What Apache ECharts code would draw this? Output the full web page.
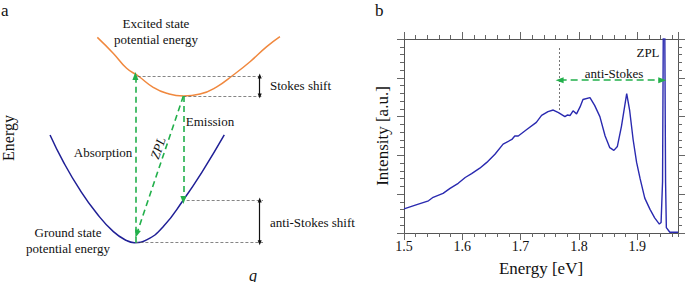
<!DOCTYPE html>
<html>
<head>
<meta charset="utf-8">
<script src="https://cdn.jsdelivr.net/npm/echarts@6/dist/echarts.min.js"></script>
<style>
  html, body { margin: 0; padding: 0; background: #fff; }
  #chart { width: 685px; height: 282px; }
</style>
</head>
<body>
<div id="chart"></div>
<script>
// panel a: schematic potential curves (q, energy)
const excitedQ = [3.47, 4.20, 4.80, 5.33, 6.01, 6.62, 7.38, 8.14, 8.90, 9.65, 10.41, 11.17, 11.77];
const excitedE = [8.99, 8.35, 7.76, 7.45, 7.00, 6.76, 6.65, 6.73, 7.02, 7.49, 8.02, 8.62, 9.02];
const groundQ = [1.32, 1.92, 2.68, 3.44, 4.20, 4.81, 5.15, 5.71, 6.47, 7.38, 8.29, 9.24];
const groundE = [5.10, 4.04, 2.91, 1.98, 1.25, 0.89, 0.81, 0.92, 1.45, 2.51, 3.71, 5.10];

// panel b: emission spectrum
const energy = [1.500, 1.522, 1.542, 1.550, 1.567, 1.579, 1.593, 1.605, 1.616, 1.630,
  1.642, 1.656, 1.670, 1.685, 1.690, 1.696, 1.710, 1.727, 1.736, 1.747,
  1.756, 1.765, 1.776, 1.780, 1.785, 1.790, 1.796, 1.802, 1.807, 1.819,
  1.827, 1.836, 1.845, 1.853, 1.860, 1.866, 1.873, 1.882, 1.887, 1.893,
  1.899, 1.905, 1.913, 1.922, 1.930, 1.938, 1.941, 1.9435, 1.946, 1.9487,
  1.950, 1.956, 1.970];
const intensity = [0.62, 0.73, 0.83, 0.92, 1.02, 1.15, 1.28, 1.43, 1.53, 1.67,
  1.82, 2.03, 2.29, 2.41, 2.50, 2.50, 2.66, 2.85, 3.03, 3.13,
  3.17, 3.10, 3.00, 3.04, 3.03, 3.15, 3.07, 3.25, 3.44, 3.49,
  3.29, 3.00, 2.50, 2.20, 2.13, 2.23, 2.75, 3.59, 3.17, 2.41,
  1.82, 1.40, 0.90, 0.61, 0.39, 0.23, 0.27, 1.32, 9.0, 1.30,
  0.14, 0.02, 0.02];

// transition levels in panel a
const levelAbsTop = 7.45, levelExcMin = 6.65, levelEmit = 2.51, levelGround = 0.81;
const qAbs = 5.2, qExc = 7.38, qShift = 10.85, qEnd = 11;
// panel b annotations
const antiStokesStart = 1.767, zplEnergy = 1.943, antiStokesLevel = 3.94;

const serif = "'Liberation Serif', serif";
const green = '#22b04b';
const gray = '#666';

const chart = echarts.init(document.getElementById('chart'), null, { renderer: 'svg' });

const arrowEnd = (from, to, color, type, width, size) => [
  { coord: from, symbol: 'none', lineStyle: { color: color, type: type, width: width } },
  { coord: to, symbol: 'triangle', symbolSize: size }
];
const doubleArrow = (from, to, color, type, width, size) => [
  { coord: from, symbol: 'triangle', symbolSize: size, lineStyle: { color: color, type: type, width: width } },
  { coord: to, symbol: 'triangle', symbolSize: size }
];
const guide = (from, to) => [
  { coord: from, symbol: 'none', lineStyle: { color: gray, type: [3, 2], width: 0.8 } },
  { coord: to, symbol: 'none' }
];

function text(t, x, y, opts) {
  opts = opts || {};
  return {
    type: 'text', x: x, y: y, rotation: opts.rotation || 0, silent: true,
    style: {
      text: t, fill: '#111',
      fontFamily: serif, fontSize: opts.size || 13,
      fontStyle: opts.italic ? 'italic' : 'normal', fontWeight: 'normal',
      align: opts.align || 'center', verticalAlign: 'middle'
    }
  };
}

const majorTickX = (pos) => ({
  type: 'value', gridIndex: 1, position: pos, min: 1.5, max: 1.97, interval: 0.1,
  axisLine: { show: true, lineStyle: { color: '#555', width: 1 } },
  axisTick: { show: true, length: 7, lineStyle: { color: gray } },
  axisLabel: {
    show: pos === 'bottom', showMaxLabel: false, margin: 6,
    fontFamily: serif, fontSize: 14, color: '#111',
    formatter: v => v.toFixed(1)
  },
  splitLine: { show: false },
  name: pos === 'bottom' ? 'Energy [eV]' : '',
  nameLocation: 'middle', nameGap: 27,
  nameTextStyle: { fontFamily: serif, fontSize: 17, fontWeight: 'normal', color: '#111' }
});
const minorTickX = (pos) => ({
  type: 'value', gridIndex: 1, position: pos, min: 1.5, max: 1.97, interval: 0.02,
  axisLine: { show: false },
  axisTick: { show: true, length: 4, lineStyle: { color: gray } },
  axisLabel: { show: false },
  splitLine: { show: false }
});
const yAxisB = (pos) => ({
  type: 'value', gridIndex: 1, position: pos, min: 0, max: 5, interval: 1,
  axisLine: { show: true, lineStyle: { color: '#555', width: 1 } },
  axisTick: { show: true, length: 7, lineStyle: { color: gray } },
  minorTick: { show: true, splitNumber: 5, length: 4, lineStyle: { color: gray } },
  axisLabel: { show: false },
  splitLine: { show: false },
  name: pos === 'left' ? 'Intensity [a.u.]' : '',
  nameLocation: 'middle', nameGap: 13,
  nameTextStyle: { fontFamily: serif, fontSize: 17, fontWeight: 'normal', color: '#111' }
});

chart.setOption({
  animation: false,
  grid: [
    { left: 21, top: 12, width: 330, height: 251 },
    { left: 404, top: 39, width: 274, height: 198 }
  ],
  xAxis: [
    { type: 'value', gridIndex: 0, min: 0, max: 15, show: false },
    majorTickX('bottom'), minorTickX('bottom'),
    majorTickX('top'), minorTickX('top')
  ],
  yAxis: [
    { type: 'value', gridIndex: 0, min: 0, max: 10, show: false },
    yAxisB('left'), yAxisB('right')
  ],
  series: [
    {
      type: 'line', xAxisIndex: 0, yAxisIndex: 0, smooth: true, showSymbol: false,
      clip: false, silent: true,
      data: excitedQ.map((q, i) => [q, excitedE[i]]),
      lineStyle: { color: '#f0883e', width: 1.5 }
    },
    {
      type: 'line', xAxisIndex: 0, yAxisIndex: 0, smooth: true, showSymbol: false,
      clip: false, silent: true,
      data: groundQ.map((q, i) => [q, groundE[i]]),
      lineStyle: { color: '#1f1f96', width: 1.5 },
      markLine: {
        silent: true, animation: false,
        label: { show: false },
        emphasis: { disabled: true },
        data: [
          // axes
          arrowEnd([0, -0.2], [0, 10], '#222', 'solid', 1.2, [5, 7]),
          arrowEnd([-0.23, 0], [11, 0], '#222', 'solid', 1.2, [5, 7]),
          // guide lines
          guide([qAbs + 0.1, levelAbsTop], [qEnd, levelAbsTop]),
          guide([qExc, levelExcMin], [qEnd, levelExcMin]),
          guide([qExc + 0.15, levelEmit], [qEnd, levelEmit]),
          guide([qAbs, levelGround], [qEnd, levelGround]),
          // shifts
          doubleArrow([qShift, levelExcMin], [qShift, levelAbsTop], '#111', 'solid', 1.2, [4, 5]),
          doubleArrow([qShift, levelGround], [qShift, levelEmit], '#111', 'solid', 1.2, [4, 5]),
          // transitions
          arrowEnd([qAbs, levelGround], [qAbs, levelAbsTop], green, [6, 4], 1.6, [6, 8]),
          arrowEnd([qExc, levelExcMin], [qExc, levelEmit], green, [6, 4], 1.6, [6, 8]),
          arrowEnd([qExc, levelExcMin], [qAbs + 0.06, levelGround + 0.35], green, [6, 4], 1.6, [6, 8])
        ]
      }
    },
    {
      type: 'line', xAxisIndex: 1, yAxisIndex: 1, showSymbol: false, clip: true, silent: true,
      data: energy.map((e, i) => [e, intensity[i]]),
      lineStyle: { color: '#2a2ab0', width: 1.4 },
      markLine: {
        silent: true, animation: false,
        label: { show: false },
        emphasis: { disabled: true },
        data: [
          [
            { coord: [antiStokesStart, 3.17], symbol: 'none', lineStyle: { color: gray, type: [2, 2], width: 0.9 } },
            { coord: [antiStokesStart, 4.81], symbol: 'none' }
          ],
          doubleArrow([antiStokesStart, antiStokesLevel], [zplEnergy, antiStokesLevel], green, [7, 4], 1.6, [6, 8])
        ]
      }
    }
  ],
  graphic: [
    text('a', 1, 10, { size: 17, align: 'left' }),
    text('Excited state', 156, 23),
    text('potential energy', 156, 39),
    text('Stokes shift', 270, 85, { align: 'left' }),
    text('Emission', 210, 121),
    text('Absorption', 103, 152),
    text('ZPL', 158, 148, { italic: true, rotation: 71 * Math.PI / 180 }),
    text('anti-Stokes shift', 270, 222, { align: 'left' }),
    text('Ground state', 68, 232),
    text('potential energy', 68, 248),
    text('Energy', 8, 138, { size: 16, rotation: Math.PI / 2 }),
    text('q', 253, 275, { size: 16, italic: true }),
    text('b', 375, 10, { size: 17, align: 'left' }),
    text('ZPL', 648, 52),
    text('anti-Stokes', 614, 73)
  ]
});
</script>
</body>
</html>
